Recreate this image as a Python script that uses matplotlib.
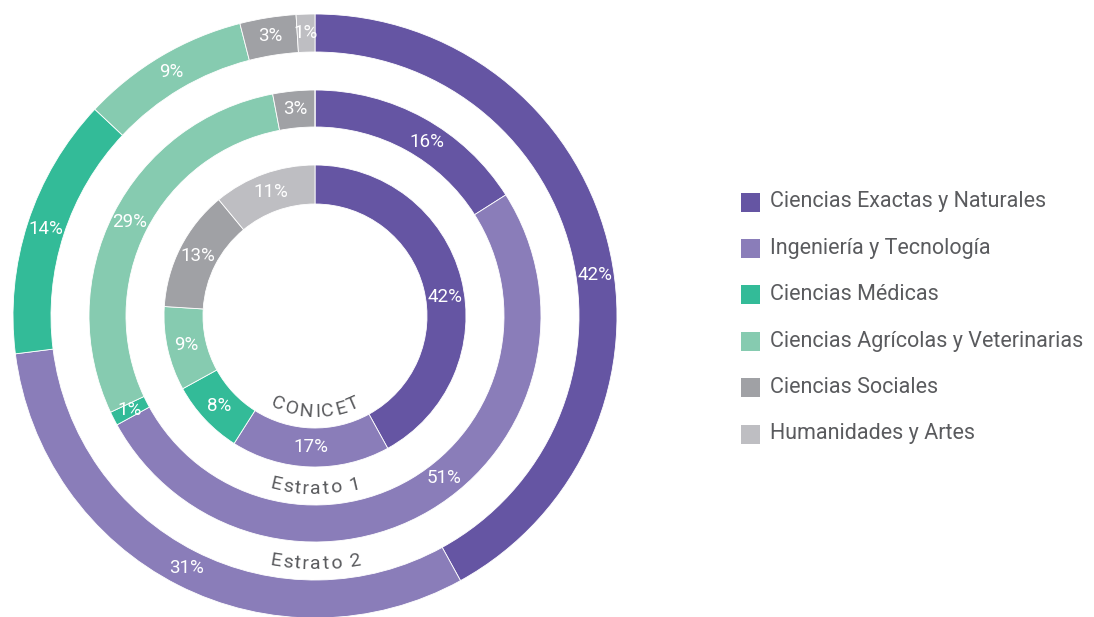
import numpy as np
import matplotlib.pyplot as plt
from matplotlib.patches import Rectangle
from matplotlib.font_manager import FontProperties
from matplotlib.textpath import TextToPath

categories = ['Ciencias Exactas y Naturales', 'Ingeniería y Tecnología', 'Ciencias Médicas',
              'Ciencias Agrícolas y Veterinarias', 'Ciencias Sociales', 'Humanidades y Artes']
colors = ['#6555a3', '#8a7db9', '#33bb98', '#86cbb0', '#a0a1a5', '#bebec2']

ring_names = ['CONICET', 'Estrato 1', 'Estrato 2']
conicet = [42, 17, 8, 9, 13, 11]
estrato1 = [16, 51, 1, 29, 3, 0]
estrato2 = [42, 31, 14, 9, 3, 1]

FONT = ['Roboto', 'DejaVu Sans']
TXT = '#5a5b5e'
W, H = 1094, 617
cx, cy = 315, 316

fig = plt.figure(figsize=(W / 100, H / 100), dpi=100)
ax = fig.add_axes([0, 0, 1, 1])

# outer radius, ring width, radius of the curved name (px)
geom = [(151, 39, 96), (226, 37, 173), (302, 38, 248)]
# manual nudges for a few labels (degrees), like in the original
nudge = {(0, 0): -6, (1, 0): -4, (1, 1): 8, (2, 0): -6}

ttp = TextToPath()


def adv(ch, fp):
    w1 = ttp.get_text_width_height_descent('|' + ch + '|', fp, ismath=False)[0]
    w0 = ttp.get_text_width_height_descent('||', fp, ismath=False)[0]
    return (w1 - w0) * 100 / 72


def arc_text(s, r, size, spacing):
    fp = FontProperties(family=FONT, size=size)
    widths = [adv(ch, fp) for ch in s]
    total = sum(widths) + spacing * (len(s) - 1)
    pos = 0
    for ch, w in zip(s, widths):
        c = pos + w / 2
        th = -np.pi / 2 + (c - total / 2) / r
        ax.text(r * np.cos(th), r * np.sin(th), ch, rotation=np.degrees(th) + 90,
                rotation_mode='anchor', ha='center', va='center',
                fontproperties=fp, color=TXT, zorder=5)
        pos += w + spacing


for k, (vals, name) in enumerate(zip([conicet, estrato1, estrato2], ring_names)):
    r, w, rn = geom[k]
    wedges, _ = ax.pie(vals, radius=r, startangle=90, counterclock=False, colors=colors,
                       wedgeprops=dict(width=w, edgecolor='white', linewidth=0.6))
    for i, (wd, v) in enumerate(zip(wedges, vals)):
        if v == 0:
            continue
        mid = np.radians((wd.theta1 + wd.theta2) / 2 + nudge.get((k, i), 0))
        rr = r - w / 2
        ax.text(rr * np.cos(mid), rr * np.sin(mid), f'{v}%', ha='center', va='center',
                color='white', fontsize=13.5, family=FONT, zorder=5)
    arc_text(name, rn, 14, 1.6)

# legend
for i, (cat, col) in enumerate(zip(categories, colors)):
    yc = 114 - i * 46.4
    ax.add_patch(Rectangle((426, yc - 9.5), 19, 19, facecolor=col, edgecolor='none'))
    ax.text(455, yc, cat, ha='left', va='center', fontsize=15.5, color=TXT, family=FONT)

ax.set_xlim(-cx, W - cx)
ax.set_ylim(-(H - cy), cy)
ax.set_aspect('equal')
ax.axis('off')

fig.savefig('out.png', dpi=100)
